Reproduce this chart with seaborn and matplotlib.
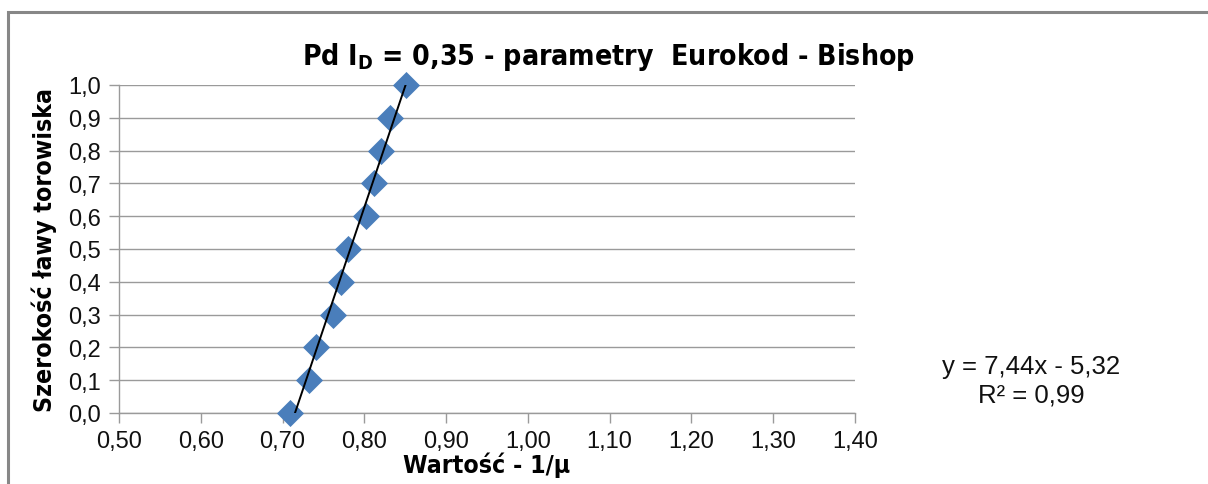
import numpy as np
import pandas as pd
import matplotlib
matplotlib.use("Agg")
import matplotlib.pyplot as plt
import seaborn as sns
from matplotlib.patches import Rectangle
from matplotlib.ticker import FuncFormatter

# data
inv_mu = [0.709, 0.732, 0.741, 0.762, 0.771, 0.780, 0.802, 0.812, 0.820, 0.831, 0.851]
width = [0.0, 0.1, 0.2, 0.3, 0.4, 0.5, 0.6, 0.7, 0.8, 0.9, 1.0]
x_ticks = [0.50, 0.60, 0.70, 0.80, 0.90, 1.00, 1.10, 1.20, 1.30, 1.40]
y_ticks = [0.0, 0.1, 0.2, 0.3, 0.4, 0.5, 0.6, 0.7, 0.8, 0.9, 1.0]
title = "Pd I$_\\mathregular{D}$ = 0,35 - parametry  Eurokod - Bishop"
x_label = "Wartość - 1/μ"
y_label = "Szerokość ławy torowiska"
eq_text = "y = 7,44x - 5,32"
r2_text = "R² = 0,99"

sns.set_theme(style="white")
plt.rcParams['font.family'] = ['Liberation Sans', 'DejaVu Sans']

df = pd.DataFrame({"x": inv_mu, "y": width})

W, H = 1208, 485
fig = plt.figure(figsize=(W / 100, H / 100), dpi=100)
ax = fig.add_axes([119 / W, 1 - 414 / H, (855 - 119) / W, (414 - 86) / H])

fig.patches.append(Rectangle((8 / W, -0.1), 1.2, 1 - 13 / H + 0.1, transform=fig.transFigure,
                             fill=False, edgecolor="#878787", lw=2.2, zorder=0))

coef = np.polyfit(inv_mu, width, 1)
xs = np.array([min(inv_mu), max(inv_mu)])
ax.plot(xs, np.polyval(coef, xs), color="black", lw=1.4, zorder=4)

sns.scatterplot(data=df, x="x", y="y", marker="D", s=190, color="#4a7ebb",
                edgecolor="#4a7ebb", linewidth=0, ax=ax, zorder=3, clip_on=False)

ax.set_xlim(0.5, 1.4)
ax.set_ylim(0.0, 1.0)
ax.set_xticks(x_ticks)
ax.set_yticks(y_ticks)
ax.xaxis.set_major_formatter(FuncFormatter(lambda v, p: f"{v:.2f}".replace(".", ",")))
ax.yaxis.set_major_formatter(FuncFormatter(lambda v, p: f"{v:.1f}".replace(".", ",")))
ax.grid(axis="y", color="#9a9a9a", lw=1.0)
ax.grid(axis="x", visible=False)
ax.set_axisbelow(True)
for s in ["top", "right"]:
    ax.spines[s].set_visible(False)
for s in ["left", "bottom"]:
    ax.spines[s].set_color("#9a9a9a")
    ax.spines[s].set_linewidth(1.0)
ax.tick_params(axis="both", which="major", direction="out", length=7, width=1.0,
               color="#9a9a9a", labelsize=17, labelcolor="#111111")
ax.tick_params(axis="x", pad=5, bottom=True)
ax.tick_params(axis="y", pad=6, left=True)

bold_kw = dict(fontweight="bold", family="DejaVu Sans", fontstretch="condensed", color="black")
ax.set_xlabel(x_label, fontsize=17.8, labelpad=0, **bold_kw)
ax.set_ylabel(y_label, fontsize=17.8, labelpad=8, **bold_kw)

fig.text(608 / W, 1 - 57 / H, title, ha="center", va="center", fontsize=20.3, **bold_kw)
fig.text(1031 / W, 1 - 367 / H, eq_text, ha="center", va="center", fontsize=18.5, color="#111111")
fig.text(1031 / W, 1 - 396 / H, r2_text, ha="center", va="center", fontsize=18.5, color="#111111")

fig.savefig("out.png", dpi=100, facecolor="white")
